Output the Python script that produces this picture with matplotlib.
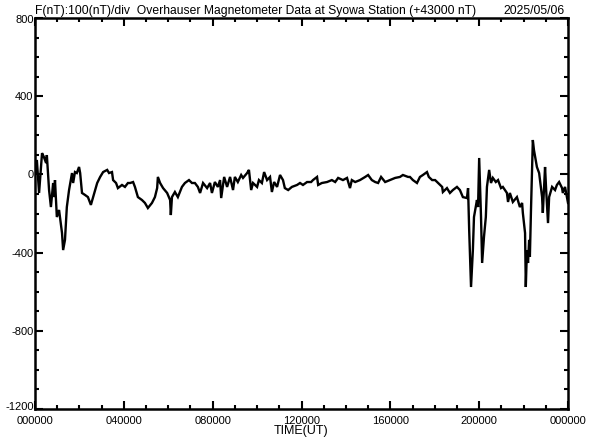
import matplotlib
matplotlib.use("Agg")
import matplotlib.pyplot as plt
from matplotlib.ticker import MultipleLocator, FixedLocator
import matplotlib.transforms as mtransforms

# time in minutes UT since 00:00, F deviation in nT (relative to 43000 nT)
time_min = [0, 3, 5, 11, 19, 24, 30, 32, 38, 43, 49, 51, 54, 59, 65, 73, 76, 81, 86, 92,
            100, 103, 108, 113, 119, 122, 127, 135, 143, 151, 157, 168, 176, 184, 195, 200,
            208, 211, 219, 224, 235, 243, 251, 257, 265, 270, 278, 289, 297, 305, 316, 324,
            330, 332, 338, 346, 357, 365, 367, 370, 378, 386, 397, 405, 416, 424, 432, 440,
            446, 454, 465, 473, 478, 486, 494, 500, 503, 511, 519, 527, 535, 540, 548, 557,
            562, 573, 578, 584, 589, 600, 605, 613, 619, 627, 635, 640, 646, 654, 662, 670,
            675, 684, 694, 708, 716, 724, 735, 746, 751, 762, 765, 775, 789, 802, 811, 819,
            832, 843, 851, 856, 865, 878, 892, 900, 910, 919, 927, 935, 946, 959, 973, 986,
            994, 1008, 1013, 1021, 1032, 1040, 1048, 1059, 1064, 1073, 1081, 1089, 1100, 1102,
            1113, 1121, 1129, 1140, 1148, 1156, 1167, 1170, 1173, 1178, 1183, 1186, 1194, 1197,
            1200, 1205, 1208, 1213, 1218, 1221, 1227, 1232, 1237, 1245, 1251, 1259, 1264, 1275,
            1278, 1283, 1291, 1302, 1310, 1316, 1318, 1324, 1326, 1329, 1332, 1335, 1337, 1340,
            1343, 1345, 1348, 1356, 1362, 1370, 1372, 1378, 1381, 1386, 1389, 1397, 1405, 1410,
            1416, 1424, 1426, 1432, 1437, 1440]
field_nT = [58, 7, 74, -95, 109, 89, 58, 99, -80, -167, -44, -116, -29, -218, -182, -300, -387, -335, -167, -80,
            7, -44, 12, 7, 38, 7, -95, -105, -116, -156, -116, -44, -13, 12, 23, 7,
            12, -29, -44, -70, -54, -64, -44, -44, -39, -64, -116, -131, -146, -172, -146, -116,
            -70, -13, -44, -70, -95, -131, -208, -116, -90, -116, -64, -44, -29, -44, -44, -64,
            -95, -44, -70, -44, -95, -39, -64, -29, -121, -13, -64, -13, -80, -13, -39, -3,
            -18, 7, 23, -80, -44, -64, -29, -44, 12, -29, -13, -90, -39, -64, -3, -29,
            -70, -80, -64, -54, -44, -54, -39, -39, -29, -13, -54, -44, -39, -29, -39, -18,
            -29, -18, -70, -29, -39, -29, -13, -3, -29, -39, -44, -13, -39, -29, -18, -13,
            -3, -13, -13, -29, -44, -13, -3, 12, -13, -29, -29, -44, -64, -90,
            -70, -95, -80, -64, -80, -116, -121, -70, -284, -576, -387, -218, -131, -167,
            84, -218, -453, -320, -218, -64, 23, -44, -18, -39, -29, -70, -64, -95,
            -141, -95, -141, -116, -167, -146, -197, -300, -576, -387, -453, -335, -422, -182,
            23, 176, 125, 38, 7, -116, -197, 38, -80, -249, -116, -64, -80, -54,
            -39, -70, -95, -64, -116, -146]

x_tick_labels = ["000000", "040000", "080000", "120000", "160000", "200000", "000000"]
y_tick_values = [800, 400, 0, -400, -800, -1200]
title_text = "F(nT):100(nT)/div  Overhauser Magnetometer Data at Syowa Station (+43000 nT)"
date_text = "2025/05/06"

plt.rcParams['font.family'] = ['Liberation Sans', 'DejaVu Sans']

fig = plt.figure(figsize=(5.92, 4.40), dpi=100)
ax = fig.add_axes([35/592, 31/440, 533/592, 391/440])

ax.plot(time_min, field_nT, color="black", linewidth=1.7, solid_joinstyle="miter")

ax.set_xlim(0, 1440)
ax.set_ylim(-1200, 800)

ax.xaxis.set_major_locator(FixedLocator([0, 240, 480, 720, 960, 1200, 1440]))
ax.xaxis.set_minor_locator(MultipleLocator(60))
ax.set_xticklabels(x_tick_labels)
ax.yaxis.set_major_locator(FixedLocator(y_tick_values))
ax.yaxis.set_minor_locator(MultipleLocator(100))
ax.set_yticklabels([str(v) for v in y_tick_values])

ax.tick_params(which="both", direction="in", top=True, right=True, labelsize=8,
               width=1.5, color="black")
ax.tick_params(which="major", length=6)
ax.tick_params(which="minor", length=3)
ax.tick_params(axis="y", pad=1)
ax.tick_params(axis="x", pad=5)

# nudge bottom y label up and top y label down slightly, as in the reference
labels = ax.get_yticklabels()
labels[-1].set_transform(labels[-1].get_transform() +
                         mtransforms.ScaledTranslation(0, 3/100, fig.dpi_scale_trans))
labels[0].set_transform(labels[0].get_transform() +
                        mtransforms.ScaledTranslation(0, -1/100, fig.dpi_scale_trans))

for s in ax.spines.values():
    s.set_linewidth(1.8)

ax.set_xlabel("TIME(UT)", fontsize=9, labelpad=-1)

fig.text(35/592, 1 - 14/440, title_text, fontsize=8.7, ha="left", va="baseline")
fig.text(565/592, 1 - 14/440, date_text, fontsize=8.7, ha="right", va="baseline")

fig.savefig("out.png", dpi=100)
